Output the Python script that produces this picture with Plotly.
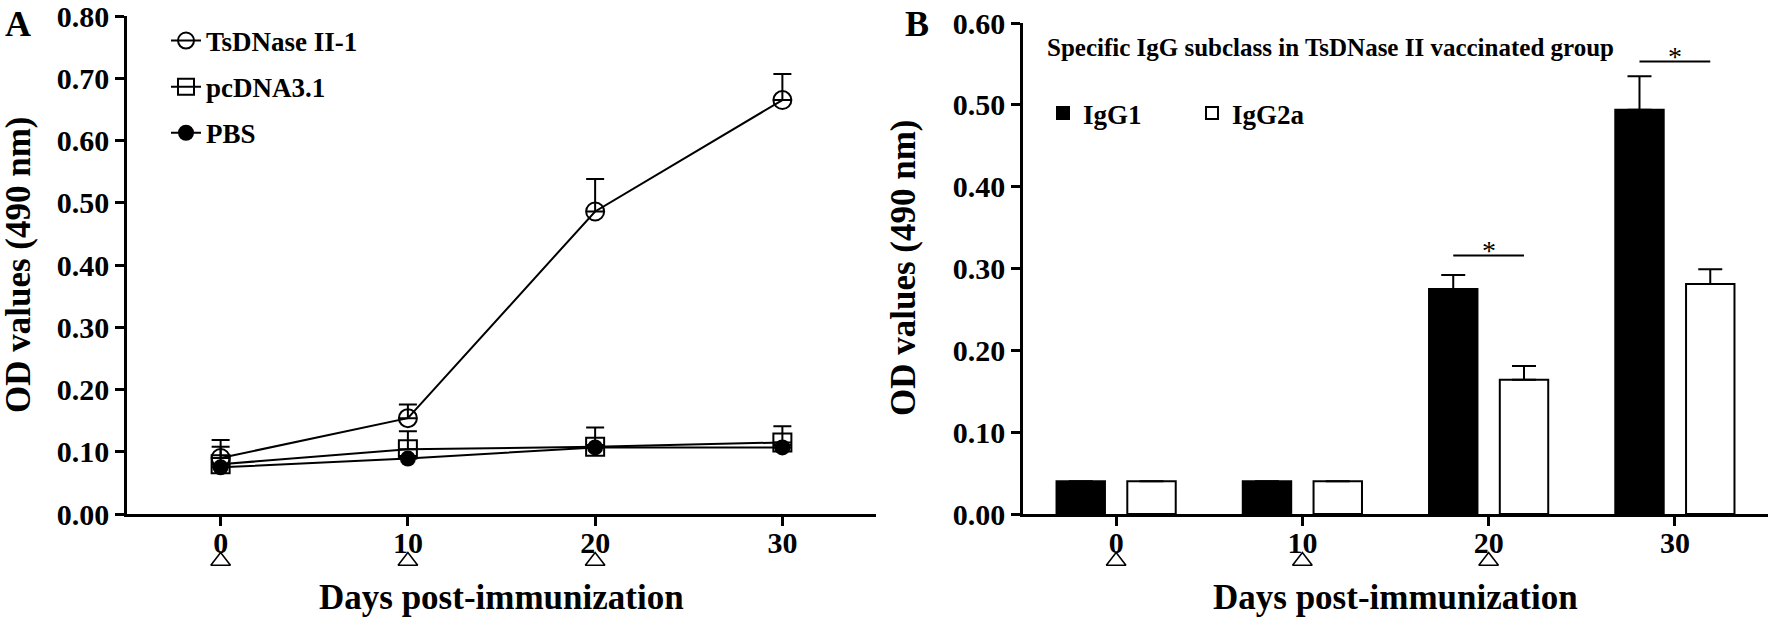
import plotly.graph_objects as go

# ---------------- data ----------------
days = [0, 10, 20, 30]
immunization_days = [0, 10, 20]

# Panel A
ts_mean = [0.090, 0.154, 0.486, 0.665]
ts_err = [0.029, 0.022, 0.052, 0.042]
pc_mean = [0.080, 0.104, 0.108, 0.115]
pc_err = [0.028, 0.029, 0.031, 0.026]
pbs_mean = [0.075, 0.089, 0.107, 0.107]
pbs_err = [0.004, 0.004, 0.004, 0.004]

# Panel B
igg1_mean = [0.040, 0.040, 0.275, 0.494]
igg1_err = [0.0, 0.0, 0.017, 0.041]
igg2a_mean = [0.040, 0.040, 0.164, 0.281]
igg2a_err = [0.0, 0.0, 0.017, 0.018]
sig_days = [20, 30]
sig_levels = [0.316, 0.553]

W, H = 1772, 619
FONT = "Liberation Serif, Times New Roman, serif"

def px_x(p):
    return p / W

def px_y(p):
    return 1 - p / H

# layout geometry (pixels)
A_LEFT, A_RIGHT, A_TOP = 127, 876, 16
B_LEFT, B_RIGHT, B_TOP = 1023, 1768, 23
BOTTOM = 514
YMAX_A, YMAX_B = 0.8, 0.6
TRI_BAND = (541, 581)  # strip holding the immunization markers

bar_w = 2.6
off1 = -3.2
off2 = 0.6

fig = go.Figure()

common_line = dict(color="black", width=2)
err_style = dict(type="data", symmetric=False, color="black", thickness=2, width=9)

fig.add_trace(go.Scatter(
    x=days, y=ts_mean, mode="lines+markers", name="TsDNase II-1",
    line=common_line,
    marker=dict(symbol="circle-open", size=18, color="black", line=dict(width=2, color="black")),
    error_y=dict(array=ts_err, arrayminus=[0] * 4, **err_style),
    xaxis="x", yaxis="y", legend="legend", legendgroup="a1",
))
fig.add_trace(go.Scatter(
    x=days, y=pc_mean, mode="lines+markers", name="pcDNA3.1",
    line=common_line,
    marker=dict(symbol="square-open", size=18, color="black", line=dict(width=2, color="black")),
    error_y=dict(array=pc_err, arrayminus=[0] * 4, **err_style),
    xaxis="x", yaxis="y", legend="legend", legendgroup="a2",
))
fig.add_trace(go.Scatter(
    x=days, y=pbs_mean, mode="lines+markers", name="PBS",
    line=common_line,
    marker=dict(symbol="circle", size=16, color="black"),
    error_y=dict(array=pbs_err, arrayminus=[0] * 4, **err_style),
    xaxis="x", yaxis="y", legend="legend", legendgroup="a3",
))

bar_err = dict(type="data", symmetric=False, color="black", thickness=2, width=12)
fig.add_trace(go.Bar(
    x=days, y=igg1_mean, name="IgG1", width=bar_w, offset=off1,
    marker=dict(color="black", line=dict(color="black", width=2)),
    error_y=dict(array=igg1_err, arrayminus=[0] * 4, visible=True, **bar_err),
    xaxis="x2", yaxis="y2", legend="legend2",
))
fig.add_trace(go.Bar(
    x=days, y=igg2a_mean, name="IgG2a", width=bar_w, offset=off2,
    marker=dict(color="white", line=dict(color="black", width=2)),
    error_y=dict(array=igg2a_err, arrayminus=[0] * 4, visible=True, **bar_err),
    xaxis="x2", yaxis="y2", legend="legend2",
))

# immunization markers (open triangles under the day axis), on helper strips
for xa, ya in [("x3", "y3"), ("x4", "y4")]:
    fig.add_trace(go.Scatter(
        x=immunization_days, y=[0.5] * len(immunization_days), mode="markers",
        marker=dict(symbol="triangle-up-open", size=17, color="black",
                    line=dict(width=1.6, color="black")),
        cliponaxis=False, showlegend=False, hoverinfo="skip", xaxis=xa, yaxis=ya,
    ))

axis_common = dict(
    showline=True, linecolor="black", linewidth=2.5,
    ticks="outside", ticklen=9, tickwidth=2.5, tickcolor="black",
    showgrid=False, zeroline=False, automargin=False, ticklabeloverflow="allow",
    tickfont=dict(family=FONT, size=30, color="black", weight="bold"),
)
hidden = dict(visible=False, showgrid=False, zeroline=False, fixedrange=True, automargin=False)

y_bottom = px_y(BOTTOM)
strip = [px_y(TRI_BAND[1]), px_y(TRI_BAND[0])]
fig.update_layout(
    width=W, height=H,
    margin=dict(l=0, r=0, t=0, b=0, autoexpand=False),
    plot_bgcolor="rgba(0,0,0,0)", paper_bgcolor="white",
    barmode="overlay",
    xaxis=dict(domain=[px_x(A_LEFT), px_x(A_RIGHT)], range=[-5, 35], tickvals=days,
               anchor="y", ticklabelstandoff=-9, **axis_common),
    yaxis=dict(domain=[y_bottom, px_y(A_TOP)], range=[0, YMAX_A], dtick=0.1, tickformat=".2f",
               anchor="x", **axis_common),
    xaxis2=dict(domain=[px_x(B_LEFT), px_x(B_RIGHT)], range=[-5, 35], tickvals=days,
                anchor="y2", ticklabelstandoff=-9, **axis_common),
    yaxis2=dict(domain=[y_bottom, px_y(B_TOP)], range=[0, YMAX_B], dtick=0.1, tickformat=".2f",
                anchor="x2", **axis_common),
    xaxis3=dict(domain=[px_x(A_LEFT), px_x(A_RIGHT)], range=[-5, 35], anchor="y3", **hidden),
    yaxis3=dict(domain=strip, range=[0, 1], anchor="x3", **hidden),
    xaxis4=dict(domain=[px_x(B_LEFT), px_x(B_RIGHT)], range=[-5, 35], anchor="y4", **hidden),
    yaxis4=dict(domain=strip, range=[0, 1], anchor="x4", **hidden),
    legend=dict(
        x=px_x(166), y=px_y(16.5), xanchor="left", yanchor="top",
        font=dict(family=FONT, size=27, color="black", weight="bold"),
        bgcolor="rgba(0,0,0,0)", tracegroupgap=8, itemwidth=30,
    ),
    legend2=dict(
        x=px_x(1043), y=px_y(89), xanchor="left", yanchor="top",
        orientation="h", entrywidth=104, entrywidthmode="pixels",
        font=dict(family=FONT, size=27, color="black", weight="bold"),
        bgcolor="rgba(0,0,0,0)", itemwidth=30,
    ),
    showlegend=True,
)

ann = []
title_font = dict(family=FONT, size=35, color="black", weight="bold")
# legend heading of panel B
ann.append(dict(text="Specific IgG subclass in TsDNase II vaccinated group", xref="paper", yref="paper",
                x=px_x(1045), y=px_y(47), showarrow=False,
                font=dict(family=FONT, size=25, color="black", weight="bold"),
                xanchor="left", yanchor="middle"))
# y titles
ann.append(dict(text="OD values (490 nm)", textangle=-90, xref="paper", yref="paper",
                x=px_x(18), y=px_y(265), showarrow=False, font=title_font,
                xanchor="center", yanchor="middle"))
ann.append(dict(text="OD values (490 nm)", textangle=-90, xref="paper", yref="paper",
                x=px_x(903), y=px_y(268), showarrow=False, font=title_font,
                xanchor="center", yanchor="middle"))
# x titles
for xr in ["x domain", "x2 domain"]:
    ann.append(dict(text="Days post-immunization", xref=xr, yref="paper",
                    x=0.5, y=px_y(597), showarrow=False, font=title_font,
                    xanchor="center", yanchor="middle"))
# panel letters
ann.append(dict(text="A", xref="paper", yref="paper", x=px_x(18), y=px_y(24),
                showarrow=False, font=dict(family=FONT, size=36, color="black", weight="bold"),
                xanchor="center", yanchor="middle"))
ann.append(dict(text="B", xref="paper", yref="paper", x=px_x(917), y=px_y(24),
                showarrow=False, font=dict(family=FONT, size=36, color="black", weight="bold"),
                xanchor="center", yanchor="middle"))

shapes = []
for d, lvl in zip(sig_days, sig_levels):
    x0 = d + off1 + bar_w / 2
    x1 = d + off2 + bar_w / 2
    shapes.append(dict(type="line", xref="x2", yref="y2", x0=x0, x1=x1, y0=lvl, y1=lvl,
                       line=dict(color="black", width=2)))
    ann.append(dict(text="*", xref="x2", yref="y2", x=(x0 + x1) / 2, y=lvl,
                    showarrow=False, font=dict(family=FONT, size=28, color="black"),
                    xanchor="center", yanchor="bottom", yshift=-13))

fig.update_layout(annotations=ann, shapes=shapes)
fig.write_html("out.html", config={"displayModeBar": False},
               post_script="document.body.style.margin='0';document.body.style.overflow='hidden';")
